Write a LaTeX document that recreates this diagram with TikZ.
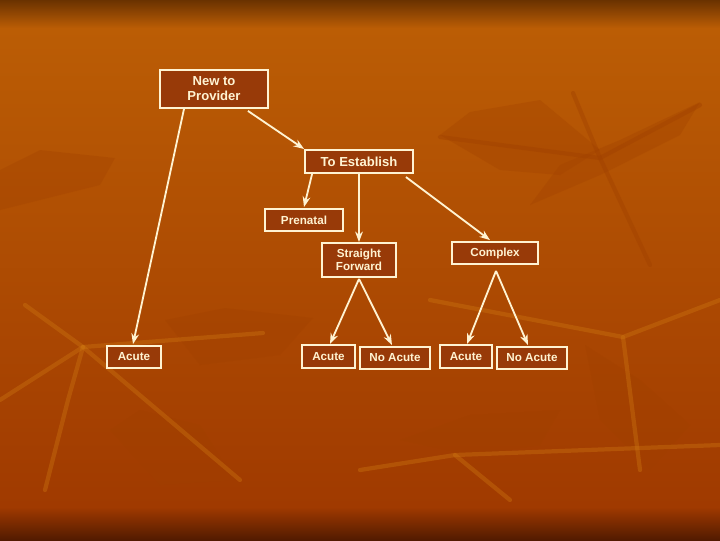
\documentclass[tikz,border=0pt]{standalone}
\usepackage{fontspec}
\setmainfont{Liberation Sans}
\usetikzlibrary{calc,positioning,arrows.meta}
\usepackage{xcolor}

\definecolor{bgtop}{HTML}{6A3200}
\definecolor{bgmid}{HTML}{BB5D05}
\definecolor{bglow}{HTML}{A03A00}
\definecolor{bgbot}{HTML}{521A00}
\definecolor{boxfill}{HTML}{983A08}
\definecolor{boxline}{HTML}{FFF3D2}
\definecolor{stemlight}{HTML}{CC7410}
\definecolor{stemdark}{HTML}{A04000}

\begin{document}
\begin{tikzpicture}[x=0.025cm, y=-0.025cm,
	main/.style = {draw=boxline, fill=boxfill, line width=1.3pt, text=boxline,
		inner sep=0pt, align=center, minimum height=0.55cm,
		font=\bfseries\fontsize{8.3}{9.4}\selectfont},
	big/.style = {font=\bfseries\fontsize{9.3}{10.6}\selectfont},
	arr/.style = {draw=boxline, line width=1.3pt, -{Stealth[length=7.5pt,width=5.5pt]}},
	stem/.style = {line width=3pt, line cap=round, opacity=0.4},
	leaf/.style = {fill=stemdark, opacity=0.3}]
	\useasboundingbox (0,0) rectangle (720,540);
	% background
	\fill[top color=bgtop, bottom color=bgmid] (0,0) rectangle (720,28);
	\fill[top color=bgmid, bottom color=bglow] (0,28) rectangle (720,507);
	\fill[top color=bglow, bottom color=bgbot] (0,507) rectangle (720,540);
	% leaves
	\fill[leaf] (0,170) -- (40,150) -- (115,158) -- (100,185) -- (40,200) -- (0,210) -- cycle;
	\fill[leaf] (440,135) -- (470,112) -- (540,100) -- (600,150) -- (560,175) -- (500,170) -- cycle;
	\fill[leaf] (530,205) -- (560,165) -- (620,140) -- (700,102) -- (680,135) -- (600,175) -- cycle;
	\fill[leaf] (165,320) -- (225,308) -- (313,318) -- (280,355) -- (200,365) -- cycle;
	\fill[leaf] (110,430) -- (140,410) -- (200,425) -- (235,480) -- (160,485) -- cycle;
	\fill[leaf] (585,345) -- (640,380) -- (690,425) -- (650,470) -- (600,420) -- cycle;
	\fill[leaf] (400,440) -- (470,415) -- (560,410) -- (540,445) -- (470,455) -- cycle;
	% stems
	\draw[stem, stemlight] (25,305) -- (83,347) -- (240,480);
	\draw[stem, stemlight] (83,347) -- (263,333);
	\draw[stem, stemlight] (83,347) -- (0,400);
	\draw[stem, stemlight] (83,347) -- (68,400) -- (45,490);
	\draw[stem, stemlight] (430,300) -- (623,337) -- (720,300);
	\draw[stem, stemlight] (623,337) -- (640,470);
	\draw[stem, stemlight] (360,470) -- (455,455) -- (720,445);
	\draw[stem, stemlight] (455,455) -- (510,500);
	\draw[stem, stemdark] (573,93) -- (600,158) -- (650,265);
	\draw[stem, stemdark] (440,137) -- (600,158) -- (700,105);
	% boxes
	\node[main, big, minimum width=2.7cm, minimum height=0.95cm] (new) at (214,89) {New to\\Provider};
	\node[main, big, minimum width=2.7cm, minimum height=0.58cm] (estab) at (359,161.5) {To Establish};
	\node[main, minimum width=1.95cm] (prenatal) at (304,220) {Prenatal};
	\node[main, minimum width=1.85cm, minimum height=0.85cm] (sf) at (359,260) {Straight\\Forward};
	\node[main, minimum width=2.15cm] (complex) at (495,253) {Complex};
	\node[main, minimum width=1.35cm] (acuteL) at (134,357) {Acute};
	\node[main, minimum width=1.32cm, minimum height=0.58cm] (acuteM) at (328.5,356.5) {Acute};
	\node[main, minimum width=1.75cm] (noacM) at (395,358) {No Acute};
	\node[main, minimum width=1.3cm, minimum height=0.58cm] (acuteR) at (466,356.5) {Acute};
	\node[main, minimum width=1.75cm] (noacR) at (532,358) {No Acute};
	% connectors
	\draw[arr] ($(new.south)+(-30,0)$) -- ($(acuteL.north)+(-1,-1)$);
	\draw[arr] ($(new.south east)+(-21,2)$) -- (estab.north west);
	\draw[arr] ($(estab.south west)+(8,0)$) -- ($(prenatal.north)+(0,-1)$);
	\draw[arr] (estab.south) -- (sf.north);
	\draw[arr] ($(estab.south east)+(-8,3)$) -- ($(complex.north)+(-5,-1)$);
	\coordinate (sfapex) at ($(sf.south)+(0,1)$);
	\draw[arr] (sfapex) -- ($(acuteM.north)+(1.5,0)$);
	\draw[arr] (sfapex) -- ($(noacM.north)+(-3,-1)$);
	\coordinate (cxapex) at ($(complex.south)+(1,6)$);
	\draw[arr] (cxapex) -- ($(acuteR.north)+(1,0)$);
	\draw[arr] (cxapex) -- ($(noacR.north)+(-4,-1)$);
\end{tikzpicture}
\end{document}
